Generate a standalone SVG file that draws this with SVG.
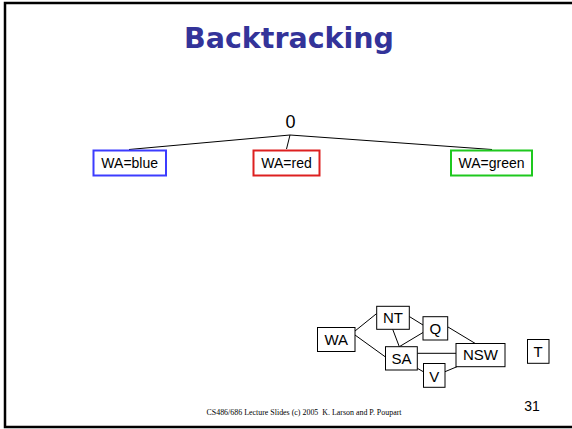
<svg xmlns="http://www.w3.org/2000/svg" width="572" height="429" viewBox="0 0 572 429">
<style>
.frame{fill:none;stroke:#000;stroke-width:2.5}
.title{font-family:"DejaVu Sans",sans-serif;font-weight:bold;font-size:28.5px;fill:#333399;text-anchor:middle}
.lbl{font-family:"Liberation Sans",Arial,sans-serif;font-size:14px;fill:#000;text-anchor:middle}
.map{font-family:"Liberation Sans",Arial,sans-serif;font-size:15px;fill:#000;text-anchor:middle}
.box{fill:#fff;stroke-width:2}
.mbox{fill:#fff;stroke:#000;stroke-width:1}
.edge{stroke:#000;stroke-width:1;fill:none}
.foot{font-family:"Liberation Serif","Times New Roman",serif;font-size:7.3px;fill:#000;white-space:pre}
</style>
<rect width="572" height="429" fill="#fff"/>
<path class="frame" d="M572,3 H5 V427 H572"/>
<text class="title" x="289" y="48">Backtracking</text>

<g id="connectors">
<line class="edge" x1="290" y1="135" x2="129" y2="149.5"/>
<line class="edge" x1="290" y1="135" x2="286.5" y2="149"/>
<line class="edge" x1="290" y1="135" x2="492" y2="149.5"/>
<line class="edge" x1="355" y1="331" x2="376.7" y2="313.5"/>
<line class="edge" x1="355" y1="335" x2="385.5" y2="357"/>
<line class="edge" x1="392.7" y1="329.3" x2="399.3" y2="346.7"/>
<line class="edge" x1="409.3" y1="316.5" x2="423" y2="325"/>
<line class="edge" x1="399.3" y1="346.7" x2="423" y2="332.5"/>
<line class="edge" x1="448" y1="327" x2="475" y2="343.3"/>
<line class="edge" x1="417.3" y1="353.3" x2="456" y2="353.3"/>
<line class="edge" x1="417.3" y1="368.3" x2="423.3" y2="371.7"/>
<line class="edge" x1="445" y1="371.7" x2="457" y2="366.7"/>
</g>

<g id="root"><text class="lbl" x="290.5" y="128" style="font-size:18px">0</text></g>
<g id="wa-blue"><rect class="box" x="93.5" y="150.5" width="72.5" height="25" stroke="#3c3cff"/><text class="lbl" x="129.7" y="168.3">WA=blue</text></g>
<g id="wa-red"><rect class="box" x="253.5" y="150.5" width="66" height="25" stroke="#dd2020"/><text class="lbl" x="286.5" y="168.3">WA=red</text></g>
<g id="wa-green"><rect class="box" x="451" y="150.5" width="81" height="25" stroke="#1ec81e"/><text class="lbl" x="491.5" y="168.3">WA=green</text></g>

<g id="WA"><rect class="mbox" x="317.5" y="327.5" width="37.5" height="24"/><text class="map" x="336.2" y="344.5">WA</text></g>
<g id="NT"><rect class="mbox" x="376.7" y="306.3" width="32.6" height="23"/><text class="map" x="393" y="323">NT</text></g>
<g id="Q"><rect class="mbox" x="423" y="316.7" width="24.7" height="23.3"/><text class="map" x="435.3" y="334.3">Q</text></g>
<g id="SA"><rect class="mbox" x="385.5" y="346.7" width="31.8" height="23.3"/><text class="map" x="401.4" y="364">SA</text></g>
<g id="NSW"><rect class="mbox" x="456" y="343.5" width="49" height="23.2"/><text class="map" x="480.5" y="359.5">NSW</text></g>
<g id="V"><rect class="mbox" x="423.5" y="363.5" width="21.5" height="23.8"/><text class="map" x="434.2" y="381.7">V</text></g>
<g id="T"><rect class="mbox" x="527.5" y="339.5" width="21.5" height="23.8"/><text class="map" x="538.2" y="357">T</text></g>

<text class="foot" x="206.5" y="415" textLength="195" lengthAdjust="spacingAndGlyphs" xml:space="preserve">CS486/686 Lecture Slides (c) 2005  K. Larson and P. Poupart</text>
<text class="lbl" x="532" y="411">31</text>
</svg>
